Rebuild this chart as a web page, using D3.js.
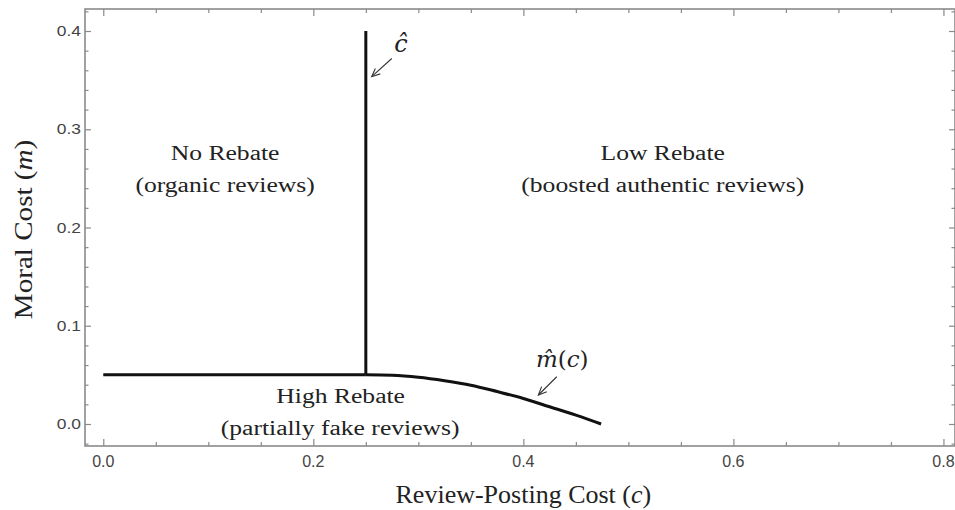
<!DOCTYPE html>
<html><head><meta charset="utf-8">
<script src="https://cdn.jsdelivr.net/npm/d3@7"></script>
<style>html,body{margin:0;padding:0;background:#fff;}svg{display:block;}</style>
</head><body>
<script>
// ---- data ----
const xTicks = [0.0, 0.2, 0.4, 0.6, 0.8];
const xTickLabels = ["0.0", "0.2", "0.4", "0.6", "0.8"];
const yTicks = [0.0, 0.1, 0.2, 0.3, 0.4];
const yTickLabels = ["0.0", "0.1", "0.2", "0.3", "0.4"];
const verticalLine = [[0.25, 0.05], [0.25, 0.40]];
const flatLine = [[0.0, 0.05], [0.25, 0.05]];
const curveC = [0.25, 0.275, 0.30, 0.325, 0.35, 0.375, 0.40, 0.425, 0.45, 0.474];
const curveM = [0.050, 0.0495, 0.0475, 0.0440, 0.0395, 0.0330, 0.0260, 0.0175, 0.0090, 0.0];
const regionLabels = [
  {c: 0.116, m: 0.2687, text: "No Rebate"},
  {c: 0.116, m: 0.2364, text: "(organic reviews)"},
  {c: 0.5327, m: 0.2687, text: "Low Rebate"},
  {c: 0.5327, m: 0.2364, text: "(boosted authentic reviews)"},
  {c: 0.226, m: 0.021, text: "High Rebate"},
  {c: 0.2255, m: -0.0112, text: "(partially fake reviews)"}
];

const W = 955, H = 510;
const svg = d3.select("body").append("svg").attr("width", W).attr("height", H);

const x = d3.scaleLinear().domain([-0.0174, 0.811]).range([85, 955]);
const y = d3.scaleLinear().domain([-0.0224, 0.4224]).range([446, 9]);

const frameColor = "#8a8a8a";
svg.append("rect")
  .attr("x", x.range()[0]).attr("y", y.range()[1])
  .attr("width", x.range()[1] - x.range()[0])
  .attr("height", y.range()[0] - y.range()[1])
  .attr("fill", "none").attr("stroke", frameColor).attr("stroke-width", 1.6);

const xMinor = d3.range(0, 0.801, 0.05).filter(v => !xTicks.some(t => Math.abs(t - v) < 1e-6));
const yMinor = d3.range(-0.02, 0.421, 0.02).filter(v => !yTicks.some(t => Math.abs(t - v) < 1e-6));

function ticks(axisFn, scale, vals, size, transform) {
  const g = svg.append("g").attr("transform", transform)
    .call(axisFn(scale).tickValues(vals).tickSizeInner(size).tickSizeOuter(0).tickFormat(""));
  g.select(".domain").remove();
  g.selectAll(".tick line").attr("stroke", frameColor).attr("stroke-width", 1.2);
  return g;
}
const bx = y.range()[0], tx = y.range()[1], lx = x.range()[0], rx = x.range()[1];
ticks(d3.axisBottom, x, xTicks, -7, `translate(0,${bx})`);
ticks(d3.axisBottom, x, xMinor, -4, `translate(0,${bx})`);
ticks(d3.axisTop, x, xTicks, -7, `translate(0,${tx})`);
ticks(d3.axisTop, x, xMinor, -4, `translate(0,${tx})`);
ticks(d3.axisLeft, y, yTicks, -6, `translate(${lx},0)`);
ticks(d3.axisLeft, y, yMinor, -3.5, `translate(${lx},0)`);
ticks(d3.axisRight, y, yTicks, -6, `translate(${rx},0)`);
ticks(d3.axisRight, y, yMinor, -3.5, `translate(${rx},0)`);

// tick labels
svg.append("g").selectAll("text").data(xTicks).join("text")
  .attr("transform", d => `translate(${x(d)},${bx + 21})`)
  .attr("text-anchor", "middle")
  .attr("font-family", "'Liberation Sans', Arial, sans-serif")
  .attr("font-size", 16).attr("fill", "#444")
  .text((d, i) => xTickLabels[i]);
svg.append("g").selectAll("text").data(yTicks).join("text")
  .attr("transform", d => `translate(${lx - 4},${y(d) + 5}) scale(1.2,1)`)
  .attr("text-anchor", "end")
  .attr("font-family", "'Liberation Sans', Arial, sans-serif")
  .attr("font-size", 14.5).attr("fill", "#444")
  .text((d, i) => yTickLabels[i]);

// lines
const line = d3.line().x(d => x(d[0])).y(d => y(d[1]));
svg.append("path").datum(flatLine).attr("d", line)
  .attr("fill", "none").attr("stroke", "#111").attr("stroke-width", 3);
svg.append("path").datum(verticalLine).attr("d", line)
  .attr("fill", "none").attr("stroke", "#111").attr("stroke-width", 3);
const curvePts = curveC.map((c, i) => [c, curveM[i]]);
svg.append("path").datum(curvePts).attr("d", line.curve(d3.curveMonotoneX))
  .attr("fill", "none").attr("stroke", "#111").attr("stroke-width", 3);

// region labels
svg.append("g").selectAll("text").data(regionLabels).join("text")
  .attr("transform", d => `translate(${x(d.c)},${y(d.m)}) scale(1.28,1)`)
  .attr("text-anchor", "middle")
  .attr("font-family", "'Liberation Serif', 'Times New Roman', serif")
  .attr("font-size", 20).attr("fill", "#222")
  .text(d => d.text);

// axis titles
const xt = svg.append("text")
  .attr("transform", `translate(${(x(0) + x(0.8)) / 2},503)`)
  .attr("text-anchor", "middle")
  .attr("font-family", "'Liberation Serif', 'Times New Roman', serif")
  .attr("font-size", 26).attr("fill", "#222");
xt.append("tspan").text("Review-Posting Cost (");
xt.append("tspan").attr("font-style", "italic").text("c");
xt.append("tspan").text(")");

const yt = svg.append("text")
  .attr("transform", `translate(32,229.5) rotate(-90) scale(1.12,1)`)
  .attr("text-anchor", "middle")
  .attr("font-family", "'Liberation Serif', 'Times New Roman', serif")
  .attr("font-size", 26).attr("fill", "#222");
yt.append("tspan").text("Moral Cost (");
yt.append("tspan").attr("font-style", "italic").text("m");
yt.append("tspan").text(")");

// annotations
function arrow(x1, y1, x2, y2) {
  const g = svg.append("g").attr("stroke", "#333").attr("stroke-width", 1.1).attr("fill", "none");
  g.append("line").attr("x1", x1).attr("y1", y1).attr("x2", x2).attr("y2", y2);
  const a = Math.atan2(y2 - y1, x2 - x1), L = 9, s = 0.42;
  g.append("path").attr("d",
    `M${x2 - L * Math.cos(a - s)},${y2 - L * Math.sin(a - s)} L${x2},${y2} L${x2 - L * Math.cos(a + s)},${y2 - L * Math.sin(a + s)}`);
}
svg.append("text")
  .attr("x", x(0.2835)).attr("y", y(0.3784))
  .attr("text-anchor", "middle")
  .attr("font-family", "'DejaVu Serif', 'Liberation Serif', serif")
  .attr("font-style", "italic")
  .attr("font-size", 24).attr("fill", "#222").text("ĉ");
arrow(x(0.2747), y(0.372), x(0.2556), y(0.3535));

const mt = svg.append("text")
  .attr("x", x(0.437)).attr("y", y(0.0585))
  .attr("text-anchor", "middle")
  .attr("font-family", "'DejaVu Serif', 'Liberation Serif', serif")
  .attr("font-size", 23).attr("fill", "#222");
mt.append("tspan").attr("font-style", "italic").text("m\u0302");
mt.append("tspan").text("(");
mt.append("tspan").attr("font-style", "italic").text("c");
mt.append("tspan").text(")");
arrow(x(0.4318), y(0.0481), x(0.4143), y(0.0295));
</script>
</body></html>
